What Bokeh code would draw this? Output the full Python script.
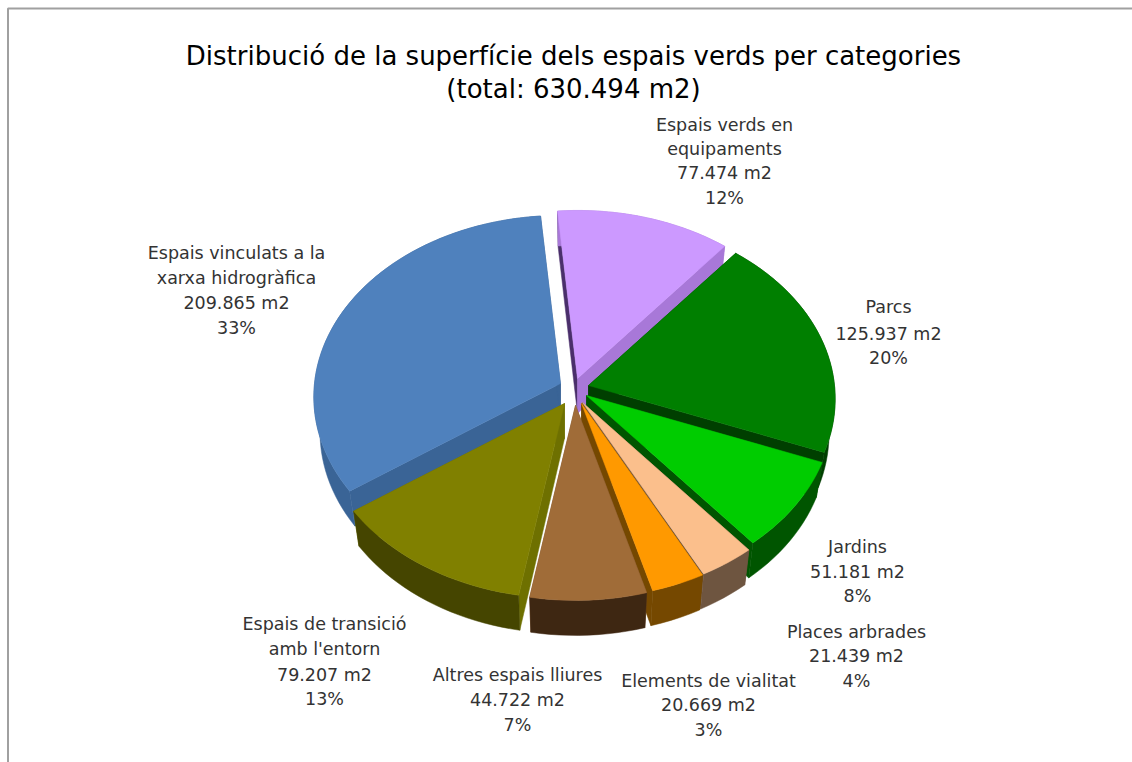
import math
from bokeh.plotting import figure
from bokeh.models import Range1d
from bokeh.core.properties import value
from bokeh.embed import file_html
from bokeh.resources import INLINE

# ---- data ----
categories = ["Espais verds en equipaments", "Parcs", "Jardins", "Places arbrades",
              "Elements de vialitat", "Altres espais lliures",
              "Espais de transició amb l'entorn", "Espais vinculats a la xarxa hidrogràfica"]
areas = [77474, 125937, 51181, 21439, 20669, 44722, 79207, 209865]
area_labels = ["77.474 m2", "125.937 m2", "51.181 m2", "21.439 m2", "20.669 m2", "44.722 m2", "79.207 m2", "209.865 m2"]
pct_labels = ["12%", "20%", "8%", "4%", "3%", "7%", "13%", "33%"]
name_lines = [["Espais verds en", "equipaments"], ["Parcs"], ["Jardins"], ["Places arbrades"],
              ["Elements de vialitat"], ["Altres espais lliures"],
              ["Espais de transició", "amb l'entorn"], ["Espais vinculats a la", "xarxa hidrogràfica"]]
title_lines = ["Distribució de la superfície dels espais verds per categories", "(total: 630.494 m2)"]

# ---- layout (page pixels) ----
W, H = 1132, 762
FONT = "DejaVu Sans"
top_col = ["#CC99FF", "#007F00", "#00CC00", "#FBBF8C", "#FF9900", "#A06C38", "#808000", "#4F81BD"]
wall_col = ["#A878D8", "#003F00", "#005500", "#6E5540", "#754800", "#3E2712", "#454500", "#3A6496"]
start_col = ["#4A2F6B", "#003F00", "#005500", "#6E5540", "#754800", "#754A20", "#6E7000", "#3A6496"]
end_col = ["#A878D8", "#003F00", "#005500", "#6E5540", "#754800", "#754A20", "#6E7000", "#3A6496"]
apex = [(577, 378), (588, 385), (586, 395), (582, 402), (581, 403), (575, 405), (564, 403), (560, 383)]
draw_order = [7, 0, 1, 2, 3, 4, 5, 6]
START = -5.0
SR, SE, KR, DEPTH, SHRINK = 246.0, 180.5, 0.074, 35.0, 0.975
label_pos = [(724, [124, 148, 172, 197]), (888, [306, 333, 357]), (857, [546, 571, 595]),
             (856, [631, 655, 680]), (708, [680, 704, 729]), (517, [674, 699, 724]),
             (324, [623, 648, 674, 698]), (236, [252, 277, 302, 327])]

p = figure(width=W, height=H, x_range=Range1d(0, W), y_range=Range1d(H, 0),
           output_backend="svg", toolbar_location=None, min_border=0)
p.axis.visible = False
p.grid.visible = False
p.outline_line_color = None
p.background_fill_color = "white"
p.border_fill_color = "white"

# chart frame
p.line([W, 7.5, 7.5], [8, 8, H], line_color="#A0A0A0", line_width=2)

def pt(a, t):
    r = math.radians(t)
    d = 1 + KR * math.cos(r)
    return a[0] + SR * math.sin(r) / d, a[1] - SE * math.cos(r) / d

total = sum(areas)
bounds = [START]
for v in areas:
    bounds.append(bounds[-1] + 360 * v / total)

for i in draw_order:
    t0, t1 = bounds[i], bounds[i + 1]
    n = max(4, int((t1 - t0) / 2))
    ts = [t0 + (t1 - t0) * k / n for k in range(n + 1)]
    a = apex[i]
    rim = [pt(a, t) for t in ts]
    low = [(a[0] + (q[0] - a[0]) * SHRINK, q[1] + DEPTH) for q in rim]
    # radial walls
    for e, f, col in ((rim[0], low[0], start_col[i]), (rim[-1], low[-1], end_col[i])):
        xs = [a[0], e[0], f[0], a[0]]
        ys = [a[1], e[1], f[1], a[1] + DEPTH]
        p.patch(xs, ys, fill_color=col, line_color=col, line_width=0.5)
    # outer wall
    xs = [q[0] for q in rim] + [q[0] for q in reversed(low)]
    ys = [q[1] for q in rim] + [q[1] for q in reversed(low)]
    p.patch(xs, ys, fill_color=wall_col[i], line_color=wall_col[i], line_width=0.5)
    # top face
    xs = [a[0]] + [q[0] for q in rim]
    ys = [a[1]] + [q[1] for q in rim]
    p.patch(xs, ys, fill_color=top_col[i], line_color=top_col[i], line_width=0.5)

def put(x, y, s, size, color="#1a1a1a"):
    p.text([x], [y], text=[s], text_font=value(FONT), text_font_size=size,
           text_align="center", text_baseline="middle", text_color=color)

for s, y in zip(title_lines, [55, 88]):
    put(573, y, s, "26px", "#000000")
for i in range(len(categories)):
    x, ys = label_pos[i]
    lines = name_lines[i] + [area_labels[i], pct_labels[i]]
    for s, y in zip(lines, ys):
        put(x, y, s, "17.5px", "#333333")

open("out.html", "w").write(file_html(p, INLINE))
